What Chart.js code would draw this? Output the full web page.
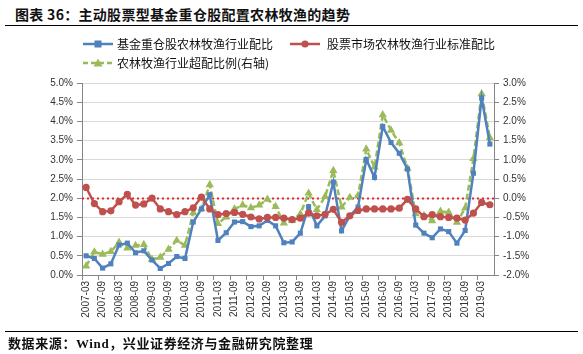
<!DOCTYPE html>
<html>
<head>
<meta charset="utf-8">
<script src="https://cdn.jsdelivr.net/npm/chart.js@4/dist/chart.umd.min.js"></script>
<style>
html,body{margin:0;padding:0;background:#fff;}
#wrap{position:relative;width:583px;height:354px;overflow:hidden;font-family:"Noto Sans CJK SC",sans-serif;}
#title{position:absolute;left:15px;top:4px;font-size:14px;font-weight:bold;color:#111;white-space:nowrap;letter-spacing:0.3px;}
#tline{position:absolute;left:5px;width:573px;top:25px;border-top:1.5px solid #000;}
#bline{position:absolute;left:5px;width:573px;top:331px;border-top:1.5px solid #000;}
#source{position:absolute;left:8px;top:333px;font-size:13px;font-weight:bold;color:#111;white-space:nowrap;letter-spacing:0.6px;font-family:"Liberation Serif","Noto Sans CJK SC",serif;}
#chart{position:absolute;left:0;top:0;}
.lg{position:absolute;height:14px;font-size:12px;color:#111;white-space:nowrap;line-height:14px;}
.lg svg{position:absolute;left:0;top:0;}
.lg span{position:absolute;top:0;}
</style>
</head>
<body>
<div id="wrap">
  <div id="title">图表 36：主动股票型基金重仓股配置农林牧渔的趋势</div>
  <div id="tline"></div>
  <canvas id="chart" width="583" height="354"></canvas>
  <div id="legend"></div>
  <div id="bline"></div>
  <div id="source">数据来源：Wind，兴业证券经济与金融研究院整理</div>
</div>
<script>
// ---- data ----
const categories = [
 "2007-03","2007-06","2007-09","2007-12","2008-03","2008-06","2008-09","2008-12",
 "2009-03","2009-06","2009-09","2009-12","2010-03","2010-06","2010-09","2010-12",
 "2011-03","2011-06","2011-09","2011-12","2012-03","2012-06","2012-09","2012-12",
 "2013-03","2013-06","2013-09","2013-12","2014-03","2014-06","2014-09","2014-12",
 "2015-03","2015-06","2015-09","2015-12","2016-03","2016-06","2016-09","2016-12",
 "2017-03","2017-06","2017-09","2017-12","2018-03","2018-06","2018-09","2018-12",
 "2019-03","2019-06"
];
const seriesNames = ["基金重仓股农林牧渔行业配比","股票市场农林牧渔行业标准配比","农林牧渔行业超配比例(右轴)"];
// left axis (%)
const fundWeight = [0.50,0.43,0.18,0.29,0.78,0.83,0.58,0.63,0.39,0.17,
                    0.30,0.48,0.43,1.38,1.72,2.09,0.90,1.10,1.38,1.39,
                    1.26,1.28,1.42,1.28,0.84,0.86,1.09,1.78,1.28,1.54,
                    2.42,1.15,1.54,1.77,3.01,2.54,3.87,3.45,3.17,2.76,
                    1.30,1.09,0.97,1.20,1.13,0.83,1.16,2.65,4.61,3.41];
const marketWeight = [2.28,1.86,1.65,1.67,1.91,2.10,1.82,1.85,2.00,1.72,
                      1.65,1.57,1.65,1.75,2.03,1.72,1.57,1.60,1.63,1.58,
                      1.51,1.46,1.50,1.50,1.48,1.44,1.48,1.61,1.54,1.58,
                      1.71,1.37,1.54,1.68,1.72,1.72,1.72,1.72,1.74,1.97,
                      1.72,1.52,1.57,1.52,1.50,1.48,1.43,1.61,1.89,1.83];
// right axis (%)
const overweight = [-1.77,-1.40,-1.46,-1.39,-1.15,-1.30,-1.23,-1.21,-1.60,-1.54,
                    -1.33,-1.10,-1.23,-0.38,-0.28,0.35,-0.66,-0.49,-0.28,-0.18,
                    -0.25,-0.18,-0.03,-0.22,-0.65,-0.58,-0.41,0.13,-0.30,0.04,
                    0.72,-0.23,0.02,0.07,1.28,0.81,2.17,1.77,1.44,0.78,
                    -0.41,-0.45,-0.59,-0.34,-0.37,-0.63,-0.26,1.03,2.72,1.57];
const leftAxisRange = [0, 5];
const rightAxisRange = [-2, 3];
const axisStep = 0.5;
const REF_LEVEL = 2.0; // dotted reference line on left axis

const colors = ["#4F81BD","#C0504D","#9BBB59"];

// ---- legend (HTML) ----
const legendPos = [[83,37],[290,37],[83,56]];
const legendEl = document.getElementById('legend');
seriesNames.forEach((name,i)=>{
  const d = document.createElement('div');
  d.className='lg';
  d.style.left=legendPos[i][0]+'px'; d.style.top=legendPos[i][1]+'px';
  let marker='';
  if(i===0) marker='<rect x="11.5" y="3.5" width="7" height="7" fill="'+colors[0]+'"/>';
  if(i===1) marker='<circle cx="15" cy="7" r="3.6" fill="'+colors[1]+'"/>';
  if(i===2) marker='<polygon points="15,2.5 19.5,10.5 10.5,10.5" fill="'+colors[2]+'"/>';
  const dash = i===2 ? ' stroke-dasharray="5,3"' : '';
  d.innerHTML='<svg width="32" height="14"><line x1="0" y1="7" x2="30" y2="7" stroke="'+colors[i]+'" stroke-width="2.5"'+dash+'/>'+marker+'</svg><span style="left:'+(i===1?37:34)+'px">'+name+'</span>';
  legendEl.appendChild(d);
});

// ---- reference line plugin ----
const refLinePlugin = {
  id:'refLine',
  beforeDatasetsDraw(chart){
    const {ctx, chartArea, scales} = chart;
    const y = Math.round(scales.y.getPixelForValue(REF_LEVEL))+0.5;
    ctx.save();
    ctx.strokeStyle='#E3262A';
    ctx.lineWidth=2;
    ctx.setLineDash([2,3]);
    ctx.beginPath();
    ctx.moveTo(chartArea.left,y);
    ctx.lineTo(chartArea.right,y);
    ctx.stroke();
    ctx.restore();
  }
};

const tickFont = {family:"'Liberation Sans', Arial, sans-serif", size:10};
const pct = v => Number(v).toFixed(1)+'%';

new Chart(document.getElementById('chart'),{
  type:'line',
  data:{
    labels:categories,
    datasets:[
      {label:seriesNames[0], data:fundWeight, yAxisID:'y', borderColor:colors[0], backgroundColor:colors[0],
       borderWidth:2.5, pointStyle:'rect', pointRadius:3.6, pointBorderWidth:0, tension:0, order:1},
      {label:seriesNames[1], data:marketWeight, yAxisID:'y', borderColor:colors[1], backgroundColor:colors[1],
       borderWidth:2.5, pointStyle:'circle', pointRadius:3.6, pointBorderWidth:0, tension:0, order:0},
      {label:seriesNames[2], data:overweight, yAxisID:'y1', borderColor:colors[2], backgroundColor:colors[2],
       borderWidth:2.5, borderDash:[6,3], pointStyle:'triangle', pointRadius:4.8, pointBorderWidth:0, tension:0, order:2}
    ]
  },
  options:{
    responsive:false, animation:false, devicePixelRatio:1,
    layout:{padding:{top:83,left:0,right:0,bottom:0}},
    plugins:{legend:{display:false}, tooltip:{enabled:false}},
    scales:{
      x:{
        type:'category', offset:true,
        grid:{offset:true, drawOnChartArea:false, drawTicks:true, tickLength:5,
              color:ctx=> (ctx.index%2===0 ? '#868686' : 'rgba(0,0,0,0)'), tickColor:ctx=> (ctx.index%2===0 ? '#868686' : 'rgba(0,0,0,0)')},
        border:{color:'#868686', width:1},
        ticks:{autoSkip:false, maxRotation:90, minRotation:90, padding:1, color:'#333', font:tickFont,
               callback:(v,i)=> (i%2===0 ? categories[i] : '')},
        afterFit:s=>{s.height=79;}
      },
      y:{
        position:'left', min:leftAxisRange[0], max:leftAxisRange[1],
        grid:{color:'#D9D9D9', tickColor:'#868686', tickLength:5, lineWidth:1},
        border:{color:'#868686'},
        ticks:{stepSize:axisStep, callback:pct, color:'#333', font:tickFont, padding:4},
        afterFit:s=>{s.width=82;}
      },
      y1:{
        position:'right', min:rightAxisRange[0], max:rightAxisRange[1],
        grid:{drawOnChartArea:false, tickColor:'#868686', tickLength:5},
        border:{color:'#868686'},
        ticks:{stepSize:axisStep, callback:pct, color:'#333', font:tickFont, padding:4},
        afterFit:s=>{s.width=89;}
      }
    }
  },
  plugins:[refLinePlugin]
});
</script>
</body>
</html>
